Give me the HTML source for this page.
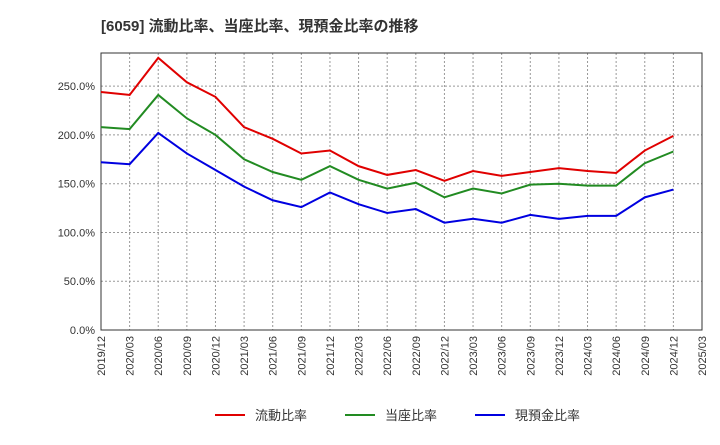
<!DOCTYPE html>
<html><head><meta charset="utf-8"><style>
body{margin:0;background:#fff;font-family:"Liberation Sans","Noto Sans CJK JP",sans-serif;}
</style></head><body>
<svg id="c" width="720" height="440" xmlns="http://www.w3.org/2000/svg">
<text x="101" y="31" font-size="15" font-weight="bold" fill="#333" font-family="Liberation Sans, Noto Sans CJK JP, sans-serif">[6059]  流動比率、当座比率、現預金比率の推移</text>
<g id="grid"></g><g id="axes"></g><g id="series"></g><g id="legend"></g>
</svg>
<script>
const categories=["2019/12","2020/03","2020/06","2020/09","2020/12","2021/03","2021/06","2021/09","2021/12","2022/03","2022/06","2022/09","2022/12","2023/03","2023/06","2023/09","2023/12","2024/03","2024/06","2024/09","2024/12","2025/03"];
const yTicks=[0,50,100,150,200,250];
const currentRatio=[244,241,279,254,239,208,196,181,184,168,159,164,153,163,158,162,166,163,161,184,199];
const quickRatio=[208,206,241,217,200,175,162,154,168,154,145,151,136,145,140,149,150,148,148,171,183];
const cashRatio=[172,170,202,181,164,147,133,126,141,129,120,124,110,114,110,118,114,117,117,136,144];
const seriesNames=["流動比率","当座比率","現預金比率"];
const colors=["#e00000","#228b22","#0000e0"];
const X0=101,X1=702,Y0=330,YT=53,YMAX=284;
const xs=i=>X0+(X1-X0)*i/(categories.length-1);
const ys=v=>Y0-(Y0-YT)*v/YMAX;
const NS="http://www.w3.org/2000/svg";
function mk(t,a,p){const e=document.createElementNS(NS,t);for(const k in a)e.setAttribute(k,a[k]);p.appendChild(e);return e;}
const grid=document.getElementById('grid'),axes=document.getElementById('axes'),ser=document.getElementById('series'),leg=document.getElementById('legend');
const frame=mk('rect',{x:X0,y:YT,width:X1-X0,height:Y0-YT,fill:'none',stroke:'#333','stroke-width':1},axes);


yTicks.forEach(v=>{
 if(v>0){const l=mk('line',{x1:X0,x2:X1,y1:ys(v),y2:ys(v),stroke:'#999','stroke-dasharray':'2,2'},grid);
 
 }
 const t=mk('text',{x:X0-6,y:ys(v)+4,'text-anchor':'end','font-size':11,fill:'#333'},axes);
 t.textContent=v.toFixed(1)+'%';
 
 
});
categories.forEach((c,i)=>{
 if(i>0&&i<categories.length-1){const l=mk('line',{x1:xs(i),x2:xs(i),y1:YT,y2:Y0,stroke:'#999','stroke-dasharray':'2,2'},grid);
 
 }
 const t=mk('text',{x:0,y:0,'text-anchor':'end','font-size':11,fill:'#333',transform:`translate(${xs(i)+4},${Y0+6}) rotate(-90)`},axes);
 t.textContent=c;
 
 
});
[currentRatio,quickRatio,cashRatio].forEach((d,s)=>{
 const p=mk('polyline',{points:d.map((v,i)=>xs(i)+','+ys(v)).join(' '),fill:'none',stroke:colors[s],'stroke-width':2},ser);
 
 
 const lx=[215,345,475][s];
 const g=mk('g',{},leg);
 
 
 mk('line',{x1:lx,x2:lx+30,y1:415,y2:415,stroke:colors[s],'stroke-width':2},g);
 const t=mk('text',{x:lx+40,y:420,'font-size':13,fill:'#333'},g);
 t.textContent=seriesNames[s];
});
</script>
</body></html>
